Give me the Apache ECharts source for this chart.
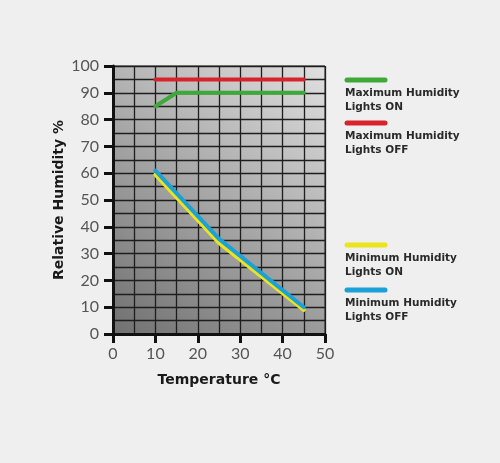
<!DOCTYPE html>
<html>
<head>
<meta charset="utf-8">
<script src="https://cdn.jsdelivr.net/npm/echarts@6/dist/echarts.min.js"></script>
<style>
  html, body { margin: 0; padding: 0; background: #efefef; }
  #chart { width: 500px; height: 463px; }
</style>
</head>
<body>
<div id="chart"></div>
<script>
var temps = [10, 15, 25, 45];
var maxOn = [85, 90, 90, 90];
var maxOff = [95, 95, 95, 95];
var minOn = [59.5, null, 34, 9];
var minOff = [61, null, 35.5, 10];

var seriesNames = ['Maximum Humidity\nLights ON', 'Maximum Humidity\nLights OFF',
  'Minimum Humidity\nLights ON', 'Minimum Humidity\nLights OFF'];
var seriesColors = ['#3ea83a', '#d8232c', '#ece51c', '#1ca0d8'];
var legendTops = [80, 123, 245, 290];

function pairs(vals) {
  var out = [];
  for (var i = 0; i < temps.length; i++) {
    if (vals[i] != null) out.push([temps[i], vals[i]]);
  }
  return out;
}

var chart = echarts.init(document.getElementById('chart'));

var lineFont = 'Lato, "DejaVu Sans", sans-serif';
var boldFont = '"DejaVu Sans", sans-serif';

function makeSeries(idx, vals, z) {
  return {
    name: seriesNames[idx],
    type: 'line',
    data: pairs(vals),
    symbol: 'none',
    z: z,
    lineStyle: { color: seriesColors[idx], width: 4, cap: 'round', join: 'round' }
  };
}

var graphics = [];
for (var i = 0; i < seriesNames.length; i++) {
  graphics.push({
    type: 'line',
    shape: { x1: 347, y1: legendTops[i], x2: 385, y2: legendTops[i] },
    style: { stroke: seriesColors[i], lineWidth: 5, lineCap: 'round' }
  });
  graphics.push({
    type: 'text',
    left: 345,
    top: legendTops[i] + 6,
    style: {
      text: seriesNames[i],
      fill: '#2a2a2a',
      font: 'bold 10.5px ' + boldFont,
      lineHeight: 14
    }
  });
}

var option = {
  backgroundColor: '#efefef',
  animation: false,
  grid: {
    left: 113, right: 175, top: 66, bottom: 129,
    show: true,
    borderColor: '#222',
    borderWidth: 1,
    backgroundColor: {
      type: 'linear', x: 0, y: 1, x2: 1, y2: 0,
      colorStops: [
        { offset: 0, color: '#707070' },
        { offset: 0.5, color: '#a8a8a8' },
        { offset: 1, color: '#e0e0e0' }
      ]
    }
  },
  xAxis: {
    type: 'value',
    min: 0, max: 50, interval: 10,
    name: 'Temperature °C',
    nameLocation: 'middle',
    nameGap: 39,
    nameTextStyle: { color: '#1a1a1a', fontSize: 14, fontWeight: 'bold', fontFamily: boldFont },
    axisLine: { show: true, onZero: false, lineStyle: { color: '#111', width: 3 } },
    axisTick: { show: true, length: 9, lineStyle: { color: '#111', width: 3 } },
    axisLabel: { color: '#555', fontSize: 16, margin: 12, fontFamily: lineFont },
    splitLine: { show: true, lineStyle: { color: '#1e1e1e', width: 1.3 } },
    minorTick: { show: false, splitNumber: 2 },
    minorSplitLine: { show: true, lineStyle: { color: '#1e1e1e', width: 1.3 } }
  },
  yAxis: {
    type: 'value',
    min: 0, max: 100, interval: 10,
    name: 'Relative Humidity %',
    nameLocation: 'middle',
    nameRotate: 90,
    nameGap: 47,
    nameTextStyle: { color: '#1a1a1a', fontSize: 14, fontWeight: 'bold', fontFamily: boldFont },
    axisLine: { show: true, onZero: false, lineStyle: { color: '#111', width: 3 } },
    axisTick: { show: true, length: 9, lineStyle: { color: '#111', width: 3 } },
    axisLabel: { color: '#555', fontSize: 16, margin: 14, fontFamily: lineFont },
    splitLine: { show: true, lineStyle: { color: '#1e1e1e', width: 1.3 } },
    minorTick: { show: false, splitNumber: 2 },
    minorSplitLine: { show: true, lineStyle: { color: '#1e1e1e', width: 1.3 } }
  },
  series: [
    makeSeries(1, maxOff, 2),
    makeSeries(0, maxOn, 2),
    makeSeries(2, minOn, 2),
    makeSeries(3, minOff, 3)
  ],
  graphic: graphics
};

chart.setOption(option);
</script>
</body>
</html>
